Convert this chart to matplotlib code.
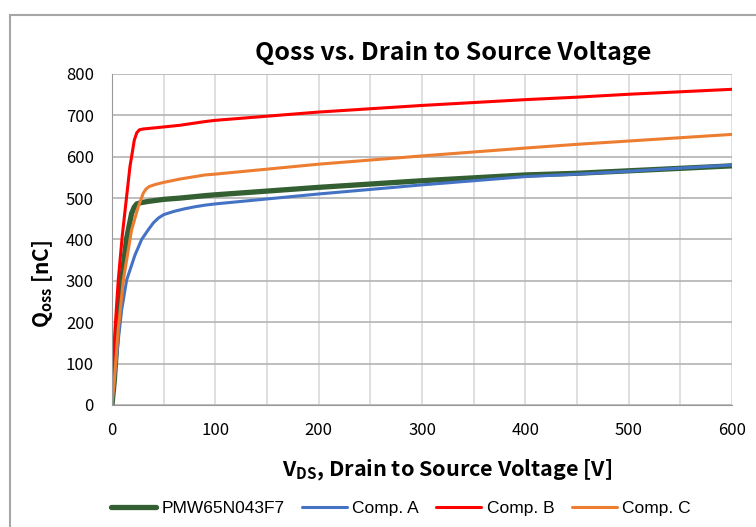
import matplotlib
matplotlib.use('Agg')
import matplotlib.pyplot as plt
from matplotlib.patches import Rectangle

# values (V_DS in V, Qoss in nC)
v_pmw = [0, 2.3, 5.5, 9.4, 14.2, 19, 21.5, 24, 28, 35, 50, 65.6, 90, 100, 200, 300, 400, 450, 500, 600]
q_pmw = [0, 60, 181, 302, 403, 463, 478, 486, 489, 492, 497, 500, 506, 508, 526, 542, 556, 560, 566, 578]

v_a = [0, 2.9, 6.1, 9.4, 14.2, 22.2, 28.7, 35, 40, 45, 50, 60, 70, 80, 90, 100, 200, 300, 400, 450, 500, 600]
q_a = [0, 77, 157, 230, 302, 362, 400, 423, 440, 452, 460, 468, 474, 479, 483, 486, 510, 532, 552, 558, 565, 580]

v_b = [0, 0.6, 2.9, 6.1, 10, 17.4, 21.6, 24, 26.5, 30, 50, 65.6, 90, 100, 200, 300, 400, 450, 500, 600]
q_b = [0, 77, 181, 302, 410, 576, 640, 658, 665, 667, 672, 676, 685, 688, 708, 724, 738, 744, 751, 763]

v_c = [0, 2.3, 6, 11, 19, 25.4, 30.3, 33, 36, 42, 50, 65.6, 90, 100, 200, 300, 400, 450, 500, 600]
q_c = [0, 60, 181, 302, 423, 479, 512, 522, 528, 533, 538, 546, 556, 558, 582, 602, 621, 630, 638, 654]

series = [
    ('PMW65N043F7', v_pmw, q_pmw, '#335f33', 3.8),
    ('Comp. A', v_a, q_a, '#4472c4', 2.2),
    ('Comp. B', v_b, q_b, '#ff0000', 2.2),
    ('Comp. C', v_c, q_c, '#ed7d31', 2.2),
]

font = ['Noto Sans CJK KR', 'DejaVu Sans']
plt.rcParams['font.family'] = font

fig = plt.figure(figsize=(7.56, 5.27), dpi=100)
ax = fig.add_axes([0.1481, 0.2315, 0.8202, 0.6281])

# outer chart frame (cut off at right and bottom like the reference)
fig.patches.append(Rectangle((10 / 756, -0.05), 1.2, 1.05 - 15 / 527,
                             transform=fig.transFigure, fill=False,
                             edgecolor='#a6a6a6', lw=1.5))

for name, v, q, color, lw in series:
    ax.plot(v, q, color=color, lw=lw, label=name, solid_capstyle='round')

ax.set_xlim(0, 600)
ax.set_ylim(0, 800)
ax.set_xticks(range(0, 601, 100))
ax.set_xticks(range(0, 601, 50), minor=True)
ax.set_yticks(range(0, 801, 100))
ax.grid(True, which='both', axis='x', color='#d9d9d9', lw=1.2)
ax.grid(True, which='major', axis='y', color='#b3b3b3', lw=1.2)
ax.set_axisbelow(True)
for s in ['top', 'right']:
    ax.spines[s].set_visible(False)
for s in ['left', 'bottom']:
    ax.spines[s].set_color('#999999')
ax.tick_params(which='both', length=0, labelsize=12, colors='black')
ax.tick_params(axis='y', pad=13)
ax.tick_params(axis='x', pad=12)

fig.text(0.599, 0.900, 'Qoss vs. Drain to Source Voltage', ha='center', va='center',
         fontsize=18, fontweight='bold')
fig.text(0.056, 0.46, r'Q$_\mathregular{oss}$ [nC]', rotation=90, ha='center', va='center',
         fontsize=15, fontweight='bold')
fig.text(0.592, 0.108, r'V$_\mathregular{DS}$, Drain to Source Voltage [V]', ha='center',
         va='center', fontsize=15.5, fontweight='bold')

leg = fig.legend(loc='center', bbox_to_anchor=(0.53, 0.035), ncol=4, frameon=False,
                 prop={'family': ['Liberation Sans'], 'size': 12.5},
                 handlelength=2.6, columnspacing=1.0, handletextpad=0.3)

fig.savefig('out.png', dpi=100)
